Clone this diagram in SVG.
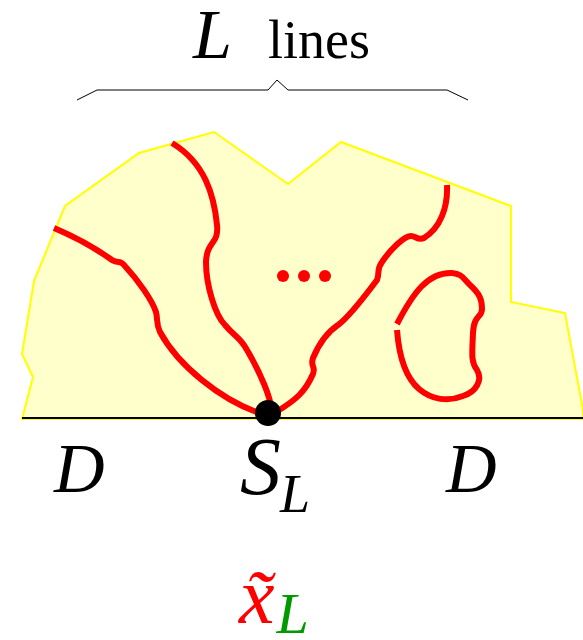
<svg xmlns="http://www.w3.org/2000/svg" width="583" height="640" viewBox="0 0 583 640">
<style>
.red{fill:none;stroke:#ff0000;stroke-width:6;stroke-linecap:butt;stroke-linejoin:round}
.t{font-family:"Liberation Serif","Times New Roman",serif;font-style:italic}
</style>
<rect width="583" height="640" fill="#ffffff"/>
<g id="region">
<polygon points="22,419 33,377 22,354 34,281 65,206 139,153 214,132 288,184 341,142 511,206 511,302 565,313 583,410 583,419" fill="#ffffcc" stroke="#ffff00" stroke-width="2"/>
<line x1="22" y1="418" x2="583" y2="418" stroke="#000000" stroke-width="2"/>
</g>
<g id="brace">
<polyline points="77,100 97,90 268,90 277,80 288,90 447,90 468,100" fill="none" stroke="#000000" stroke-width="1"/>
</g>
<g id="connectors">
<path class="red" d="M54,228 C80,239 98,250 112,260 C118,264 120,260 124,265 C138,280 152,300 156,312 C158,320 156,324 160,332 C178,365 220,400 262,414"/>
<path class="red" d="M172,143 C205,163 214,195 217,225 C219,245 207,240 206,262 C206,285 215,315 225,325 C235,337 240,337 247,350 C260,372 272,400 271,410"/>
<path class="red" d="M276,412 C296,400 305,392 313,374 C316,366 310,367 313,358 C318,346 326,333 338,325 C348,318 368,292 377,280 C380,273 376,270 382,262 C390,250 404,236 411,236 C416,236 418,241 424,238 C440,228 448,208 447,185"/>
<path class="red" d="M397,324 C413,293 428,272 452,273 C462,274 462,277 470,285 C480,294 482,300 482,309 C482,318 474,314 473,333 C472,355 471,362 477,370 C483,380 476,392 463,396 C448,402 432,400 419,389 C405,377 399,356 397,330"/>
<circle cx="283" cy="276" r="6" fill="#ff0000"/>
<circle cx="304" cy="276" r="6" fill="#ff0000"/>
<circle cx="325" cy="276" r="6" fill="#ff0000"/>
</g>
<g id="source">
<circle cx="268" cy="413" r="13" fill="#000000"/>
</g>
<g id="labels">
<text class="t" x="193" y="58" font-size="70">L</text>
<text x="268" y="58" font-size="54" font-family="'Liberation Serif','Times New Roman',serif">lines</text>
<text class="t" x="54" y="492" font-size="70">D</text>
<text class="t" x="446" y="492" font-size="70">D</text>
<text class="t" x="240" y="494" font-size="82">S<tspan font-size="54" dx="-1" dy="18">L</tspan></text>
<text class="t" x="239" y="623" font-size="80"><tspan fill="#ff0000">x̃</tspan><tspan fill="#009900" font-size="58" dx="2" dy="10">L</tspan></text>
</g>
</svg>
